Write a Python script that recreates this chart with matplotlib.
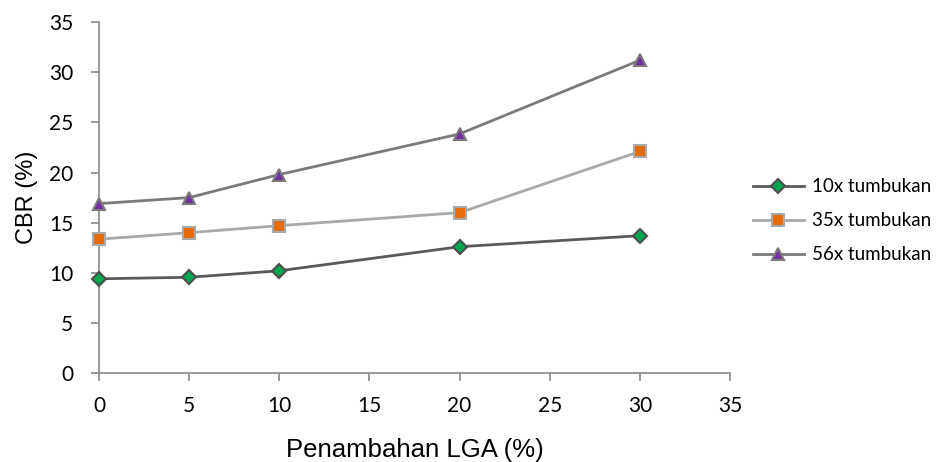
import matplotlib
matplotlib.use("Agg")
import matplotlib.pyplot as plt

# CBR test results vs. LGA addition
lga = [0, 5, 10, 20, 30]
cbr_10x = [9.4, 9.55, 10.2, 12.6, 13.7]
cbr_35x = [13.35, 14.0, 14.7, 16.0, 22.1]
cbr_56x = [16.9, 17.5, 19.8, 23.85, 31.2]

series = [
    ("10x tumbukan", cbr_10x, "D", "#5a5a5a", "#00a650", "#4d4d4d", 7),
    ("35x tumbukan", cbr_35x, "s", "#a9a9a9", "#e46c0a", "#a9a9a9", 8),
    ("56x tumbukan", cbr_56x, "^", "#7a7a7a", "#7030a0", "#7a7a7a", 8.5),
]

plt.rcParams["font.family"] = ["Liberation Sans", "DejaVu Sans"]

fig = plt.figure(figsize=(9.39, 4.62), dpi=100)
ax = fig.add_axes([0.1054, 0.1926, 0.672, 0.7594])

for label, vals, mk, lc, fc, ec, ms in series:
    ax.plot(lga, vals, color=lc, lw=2, marker=mk, markersize=ms,
            markerfacecolor=fc, markeredgecolor=ec, markeredgewidth=1.5,
            label=label, clip_on=False, zorder=3)

ax.set_xlim(0, 35)
ax.set_ylim(0, 35)
ax.set_xticks(range(0, 36, 5))
ax.set_yticks(range(0, 36, 5))
for side in ("top", "right"):
    ax.spines[side].set_visible(False)
for side in ("left", "bottom"):
    ax.spines[side].set_color("#888888")
    ax.spines[side].set_linewidth(1.2)
ax.tick_params(direction="out", length=5.5, width=1.2, color="#888888")
ax.tick_params(axis="x", pad=11)
ax.tick_params(axis="y", pad=13)
for t in ax.get_xticklabels() + ax.get_yticklabels():
    t.set_fontfamily(["Lato", "DejaVu Sans"])
    t.set_fontsize(15)

ax.set_xlabel("Penambahan LGA (%)", fontsize=18.5, labelpad=16)
ax.set_ylabel("CBR (%)", fontsize=17, labelpad=8)

leg = ax.legend(loc="center left", bbox_to_anchor=(753 / 939, 0.522),
                bbox_transform=fig.transFigure, frameon=False,
                borderaxespad=0, borderpad=0,
                prop={"family": ["Lato", "DejaVu Sans"], "size": 13.5},
                handlelength=2.7, labelspacing=0.9, handletextpad=0.42)

fig.savefig("out.png", dpi=100)
